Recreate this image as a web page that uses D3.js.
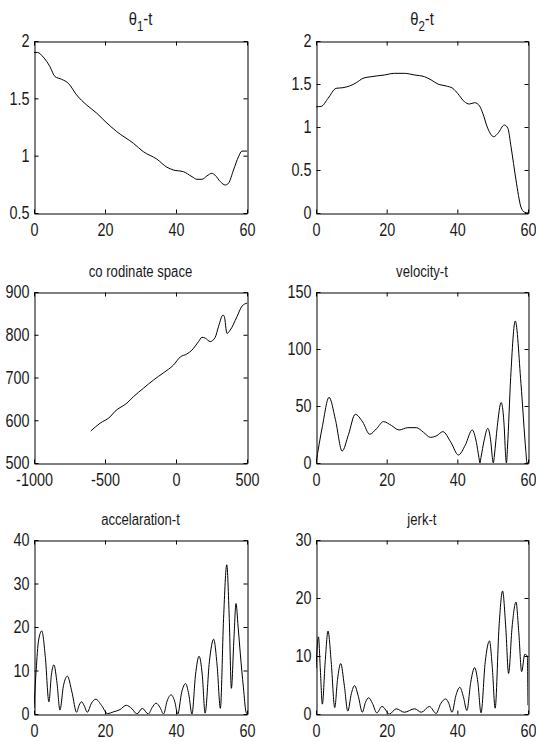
<!DOCTYPE html>
<meta charset="utf-8">
<title>Two-link arm plots</title>
<style>
body { margin: 0; background: #fff; }
svg { display: block; }
.tick text, .title {
  font-family: "Liberation Sans", Arial, sans-serif;
  fill: #1a1a1a;
  transform-box: fill-box;
}
.tick text { font-size: 18px; transform: scaleX(0.8); }
.xax .tick text { transform-origin: center; }
.yax .tick text { transform-origin: right center; }
.title { transform: scaleX(0.82); transform-origin: center; }
.domain, .tick line { stroke: #000; stroke-width: 1px; }
.curve { fill: none; stroke: #000; stroke-width: 1px; }
</style>
<svg id="chart" width="536" height="742"></svg>
<script src="https://cdn.jsdelivr.net/npm/d3@7/dist/d3.min.js"></script>
<script>

// theta1 vs t
var theta1T = [0, 1, 2.6, 4.5, 5.9, 7.8, 9.7, 12, 14.9, 17.7, 20, 23.3, 28, 30.8, 34.6, 37.4, 39.3, 42.1, 44.5, 45.9, 47.3, 48.7, 50.1, 51, 52.5, 53.9, 54.8, 56.2, 57.6, 58.6, 60];
var theta1V = [1.9, 1.9, 1.86, 1.776, 1.69, 1.666, 1.63, 1.53, 1.44, 1.37, 1.30, 1.21, 1.108, 1.035, 0.97, 0.90, 0.875, 0.86, 0.817, 0.794, 0.794, 0.823, 0.846, 0.83, 0.773, 0.744, 0.76, 0.875, 0.99, 1.04, 1.04];

// theta2 vs t
var theta2T = [0, 1.5, 3.4, 5.7, 7.6, 9.5, 11.4, 13.3, 15.6, 19.4, 22.2, 25, 27.9, 30.7, 32.6, 34.5, 36.8, 38.7, 40.1, 42, 43.4, 44.9, 46.3, 47.2, 48.6, 50.3, 51.5, 53.3, 54.3, 55.2, 56.6, 58, 59, 60];
var theta2V = [1.235, 1.24, 1.333, 1.45, 1.457, 1.477, 1.515, 1.566, 1.585, 1.605, 1.624, 1.624, 1.605, 1.585, 1.547, 1.5, 1.477, 1.45, 1.39, 1.294, 1.267, 1.283, 1.244, 1.16, 0.985, 0.887, 0.927, 1.023, 0.985, 0.77, 0.384, 0.07, 0.01, 0];

// coordinate space (x, y)
var coordX = [-600, -535, -464, -429, -346, -300, -229, -159, -88, -18, 30, 77, 112, 159, 183, 206, 241, 276, 300, 331, 340, 359, 382, 429, 465, 500];
var coordY = [575, 593, 608, 621, 640, 655, 675, 694, 711, 729, 748, 755, 764, 784, 794, 792, 784, 794, 820, 846, 843, 803, 811, 842, 867, 874];

// velocity vs t
var velT = [0, 1.8, 3.7, 5.5, 7.4, 9.2, 11.1, 13.2, 15.2, 17.1, 19.1, 21.3, 23.5, 26, 28.4, 30.4, 32.4, 34.2, 35.9, 38.2, 40.3, 42.3, 44.2, 45.4, 46.1, 46.4, 46.7, 47.6, 48.6, 49.5, 49.9, 50.2, 50.5, 51.3, 52.4, 53.3, 53.6, 53.9, 54.2, 55.1, 56.4, 58.0, 59.4, 59.7, 60];
var velV = [0, 32, 57.6, 38, 10.5, 25, 42.7, 36, 25.2, 30, 36.3, 33, 29, 31, 31, 27, 22.5, 24, 27.5, 18, 7, 16, 29, 18, 5, 0, 5, 20, 30.4, 18, 5, 0, 7, 32, 53, 30, 10, 0, 14, 75, 124.6, 70, 10, 0, 0];

// acceleration vs t
var accT = [0, 0.6, 1.3, 2.2, 3.2, 4.2, 4.9, 5.6, 6.5, 7.3, 8.3, 9.4, 10.7, 12, 12.7, 13.4, 14.2, 15, 16.2, 17.4, 19, 20.7, 22.4, 24.2, 26, 27.6, 29, 30.5, 32.2, 33.3, 34.4, 35.5, 36.5, 37.5, 38.6, 39.6, 40.5, 41.6, 42.7, 43.6, 44.5, 45.5, 46.5, 47.4, 48.2, 49.4, 50.6, 51.6, 52.5, 53.4, 54.3, 55.0, 55.6, 56.3, 56.9, 57.5, 58.1, 59, 59.7, 60];
var accV = [1.3, 10, 17, 19.1, 13, 2.8, 9, 11.3, 7, 0.9, 6.5, 8.7, 5, 0.4, 2, 2.8, 1.8, 0.4, 2.5, 3.4, 2, 0.1, 0.5, 1.0, 2.0, 1.2, 0, 1.3, 0, 1.5, 2.5, 1.5, 0, 3, 4.4, 3, 0, 5, 7, 4.5, 0, 9, 13.3, 9, 0.2, 12, 17.2, 11, 1.3, 22, 34.3, 22, 5.9, 17, 25.4, 20, 14, 6, 0.5, 0];

// jerk vs t
var jerkT = [0, 0.7, 1.2, 1.8, 2.6, 3.4, 4.3, 5.3, 6.1, 7, 8, 9, 10, 10.9, 12, 13.1, 14, 14.9, 16, 17.2, 18.7, 20.8, 22.7, 25, 27.9, 29.8, 32.1, 34, 35.3, 36.7, 37.6, 38.5, 39.6, 40.7, 41.7, 42.7, 43.8, 44.9, 45.8, 46.7, 47.9, 49.1, 49.9, 50.7, 51.8, 52.8, 53.7, 54.5, 55.5, 56.6, 57.4, 58.2, 59.1, 59.8, 60];
var jerkV = [7.9, 13.3, 8, 1.7, 9, 14.3, 9, 1.1, 6, 8.7, 5, 0.5, 3.5, 4.9, 3, 0.3, 2, 2.8, 1.8, 0.2, 1.3, 0, 0.9, 0.3, 0.9, 0.3, 1.3, 0.1, 1.8, 2.6, 1.8, 0.3, 3.2, 4.6, 3, 0.6, 5.5, 8, 5.5, 0.2, 9, 12.6, 8, 1.0, 15, 21.2, 15, 7, 15, 19.3, 14, 7.3, 10.3, 10, 1.5];

// tick values
var tTicks = [0, 20, 40, 60];
var theta1Ticks = [0.5, 1, 1.5, 2];
var theta2Ticks = [0, 0.5, 1, 1.5, 2];
var coordXTicks = [-1000, -500, 0, 500];
var coordYTicks = [500, 600, 700, 800, 900];
var velTicks = [0, 50, 100, 150];
var accTicks = [0, 10, 20, 30, 40];
var jerkTicks = [0, 10, 20, 30];

var svg = d3.select("#chart");

var cols = [[34, 247], [316, 528]],
    rows = [[41, 213], [292, 463], [540, 714]];

var panels = [
  {col: 0, row: 0, title: ["θ", "1", "-t"], xs: theta1T, ys: theta1V, xd: [0, 60], yd: [0.5, 2], xt: tTicks, yt: theta1Ticks},
  {col: 1, row: 0, title: ["θ", "2", "-t"], xs: theta2T, ys: theta2V, xd: [0, 60], yd: [0, 2], xt: tTicks, yt: theta2Ticks},
  {col: 0, row: 1, title: "co rodinate space", xs: coordX, ys: coordY, xd: [-1000, 500], yd: [500, 900], xt: coordXTicks, yt: coordYTicks},
  {col: 1, row: 1, title: "velocity-t", xs: velT, ys: velV, xd: [0, 60], yd: [0, 150], xt: tTicks, yt: velTicks},
  {col: 0, row: 2, title: "accelaration-t", xs: accT, ys: accV, xd: [0, 60], yd: [0, 40], xt: tTicks, yt: accTicks},
  {col: 1, row: 2, title: "jerk-t", xs: jerkT, ys: jerkV, xd: [0, 60], yd: [0, 30], xt: tTicks, yt: jerkTicks}
];

panels.forEach(function(p) {
  var left = cols[p.col][0], right = cols[p.col][1],
      top = rows[p.row][0], bottom = rows[p.row][1];

  var x = d3.scaleLinear().domain(p.xd).range([left, right]);
  var y = d3.scaleLinear().domain(p.yd).range([bottom, top]);
  var fmt = function(d) { return String(d); };

  var g = svg.append("g");

  // curve (clipped to the box)
  var clipId = "clip" + p.col + p.row;
  g.append("clipPath").attr("id", clipId)
    .append("rect").attr("x", left).attr("y", top)
      .attr("width", right - left).attr("height", bottom - top);

  var line = d3.line()
      .x(function(d, i) { return x(p.xs[i]); })
      .y(function(d, i) { return y(p.ys[i]); })
      .curve(d3.curveMonotoneX);

  g.append("path")
      .attr("class", "curve")
      .attr("clip-path", "url(#" + clipId + ")")
      .attr("d", line(p.xs));

  // axes: ticks point inward on all four sides
  g.append("g").attr("class", "xax").attr("transform", "translate(0," + (bottom + 0.5) + ")")
      .call(d3.axisBottom(x).tickValues(p.xt).tickFormat(fmt).tickSizeInner(-4).tickSizeOuter(0).tickPadding(10));
  g.append("g").attr("transform", "translate(0," + (top + 0.5) + ")")
      .call(d3.axisTop(x).tickValues(p.xt).tickFormat("").tickSizeInner(-4).tickSizeOuter(0));
  g.append("g").attr("class", "yax").attr("transform", "translate(" + (left + 0.5) + ",0)")
      .call(d3.axisLeft(y).tickValues(p.yt).tickFormat(fmt).tickSizeInner(-4).tickSizeOuter(0).tickPadding(5));
  g.append("g").attr("transform", "translate(" + (right + 0.5) + ",0)")
      .call(d3.axisRight(y).tickValues(p.yt).tickFormat("").tickSizeInner(-4).tickSizeOuter(0));

  g.selectAll(".tick text").attr("fill", null);
  g.selectAll(".domain").attr("stroke", null);
  g.selectAll(".tick line").attr("stroke", null);

  // title
  var cx = (left + right) / 2;
  if (Array.isArray(p.title)) {
    var t = g.append("text").attr("class", "title")
        .attr("x", cx).attr("y", top - 16)
        .attr("text-anchor", "middle")
        .style("font-size", "18px");
    t.append("tspan").text(p.title[0]);
    t.append("tspan").attr("dy", 6).style("font-size", "14px").text(p.title[1]);
    t.append("tspan").attr("dy", -6).text(p.title[2]);
  } else {
    g.append("text").attr("class", "title")
        .attr("x", cx).attr("y", top - 15)
        .attr("text-anchor", "middle")
        .style("font-size", "16px")
        .text(p.title);
  }
});

</script>
